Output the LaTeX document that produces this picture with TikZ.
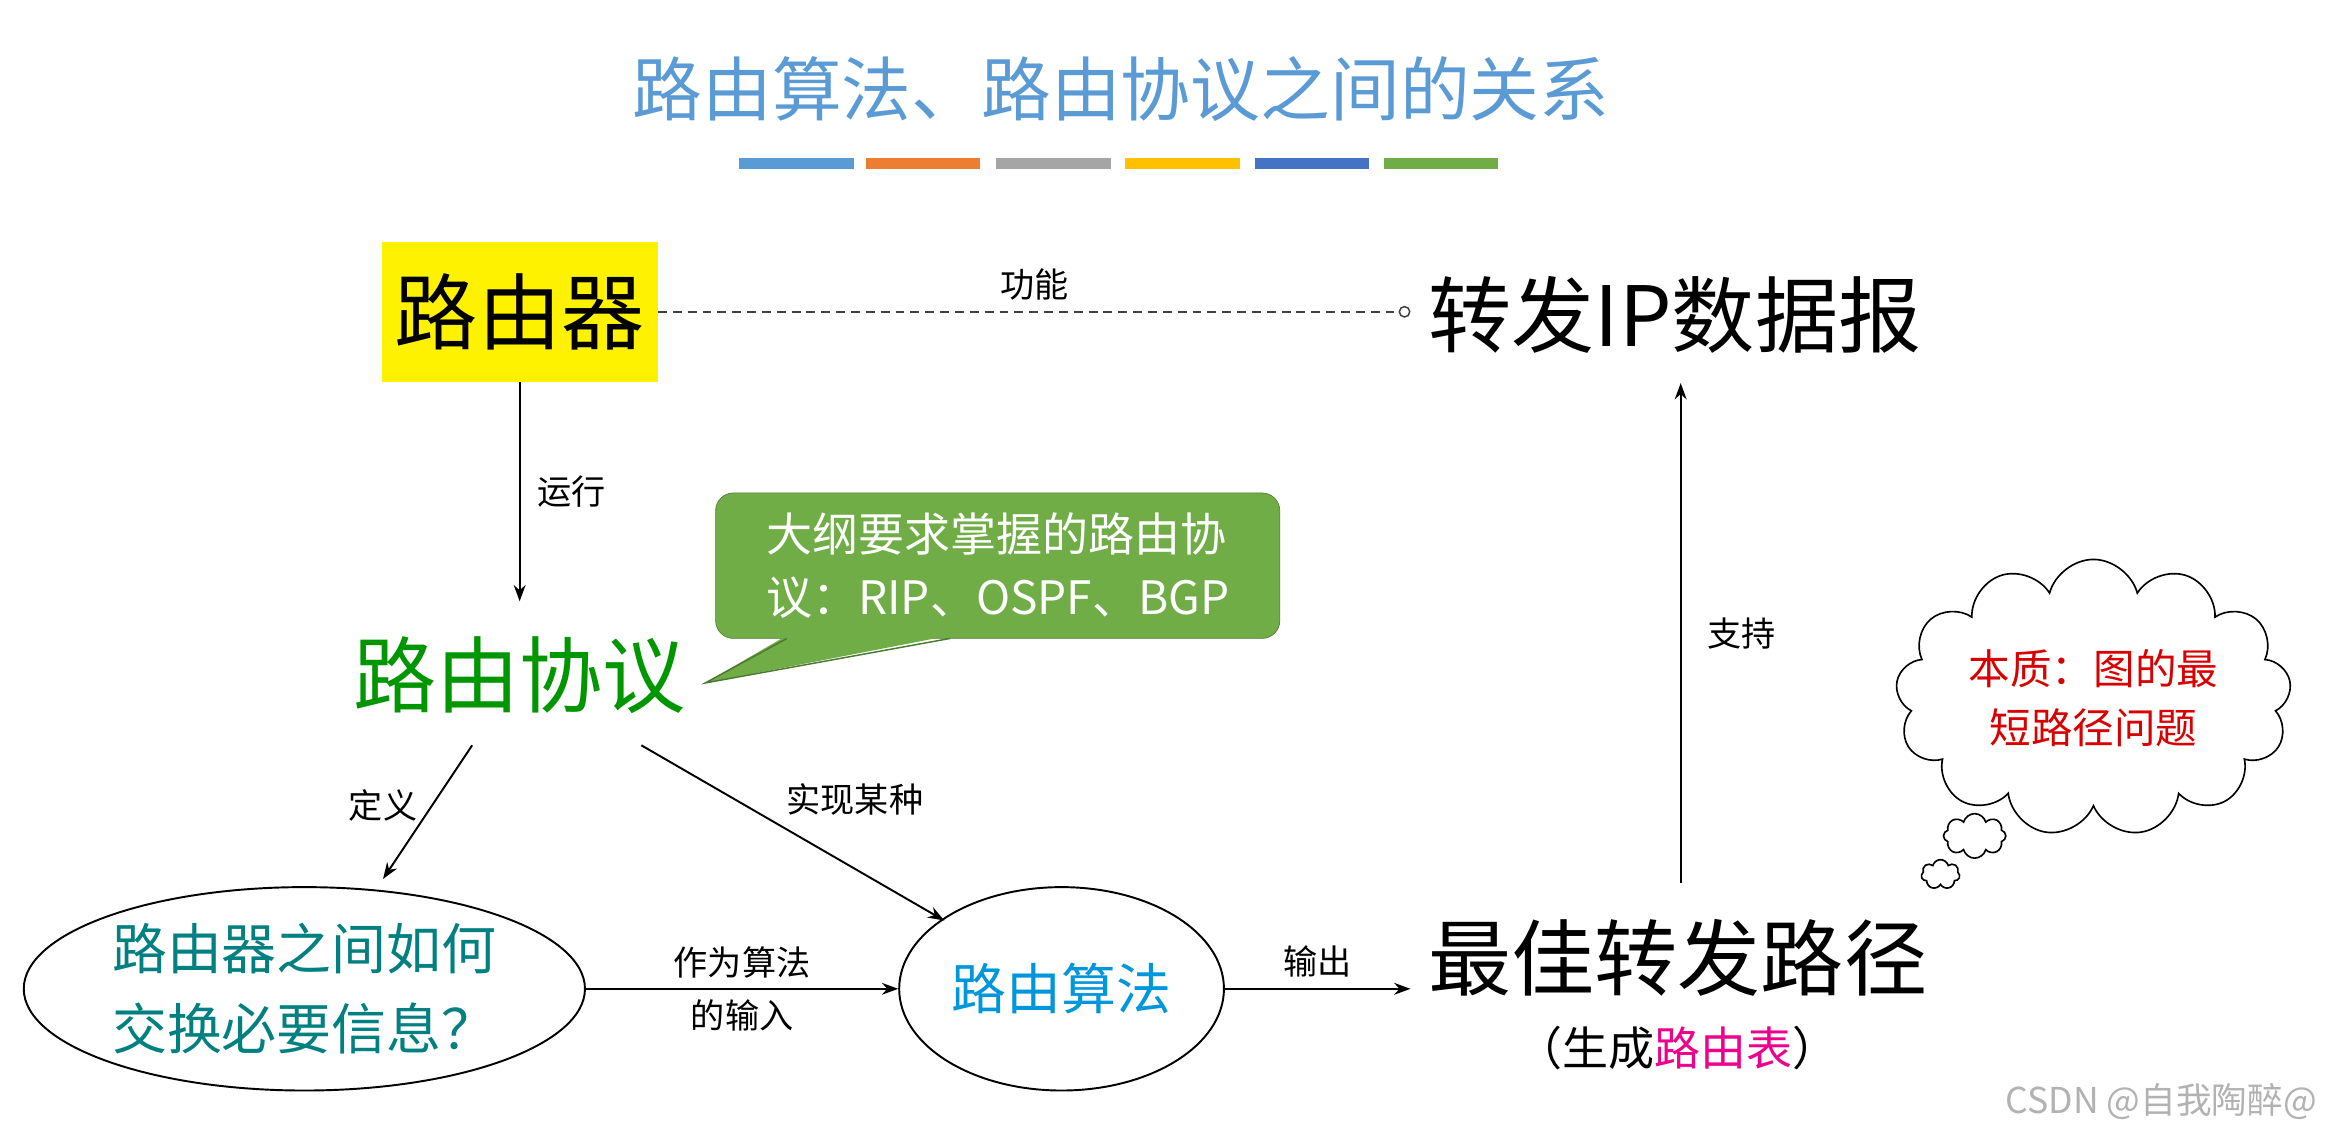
\documentclass[tikz,border=0pt]{standalone}
\usepackage{fontspec}
\setmainfont{Noto Sans CJK SC}
\usetikzlibrary{shapes.geometric,shapes.symbols,arrows.meta,shapes.callouts}
\definecolor{tblue}{RGB}{91,155,213}
\definecolor{torange}{RGB}{237,125,49}
\definecolor{tgray}{RGB}{165,165,165}
\definecolor{tgold}{RGB}{255,192,0}
\definecolor{tdblue}{RGB}{68,114,196}
\definecolor{tgreen}{RGB}{112,173,71}
\definecolor{pgreen}{RGB}{0,150,0}
\definecolor{teal2}{RGB}{0,128,128}
\definecolor{algo}{RGB}{0,150,220}
\tikzset{
 arr/.style={-{Stealth[length=11pt,width=8pt]},line width=1.3pt},
 lbl/.style={font=\fontsize{23}{28}\selectfont},
 big/.style={font=\fontsize{56}{60}\selectfont,inner sep=0pt},
 bar/.style={line width=7pt},
}
\begin{document}
\begin{tikzpicture}[x=1pt,y=-1pt]
\useasboundingbox (0,0) rectangle (1568,769);
\fill[white] (0,0) rectangle (1568,769);
\node[font=\fontsize{47}{50}\selectfont,text=tblue] (title) at (755,60) {路由算法、路由协议之间的关系};
\draw[bar,tblue] (498,110)--(575,110);
\draw[bar,torange] (583,110)--(660,110);
\draw[bar,tgray] (671,110)--(748,110);
\draw[bar,tgold] (758,110)--(835,110);
\draw[bar,tdblue] (845,110)--(922,110);
\draw[bar,tgreen] (932,110)--(1009,110);
\node[fill=yellow,minimum width=186pt,minimum height=94pt,big] (router) at (350,210) {路由器};
\node[big,anchor=west] (fwd) at (962,212) {转发IP数据报};
\coordinate (fwdin) at (950,210);
\draw[dash pattern=on 6pt off 4pt,gray!50!black,line width=1pt,-{Circle[open,length=8pt]}] (router.east) -- node[lbl,above=4pt,text=black]{功能} (fwdin);
\node[big,text=pgreen] (proto) at (350,455) {路由协议};
\draw[arr] (router.south) -- node[lbl,right=8pt]{运行} (350,405) coordinate (pin);
\node[draw=tgreen!70!black,fill=tgreen,rounded corners=12pt,minimum width=380pt,minimum height=98pt,align=left,text=white,font=\fontsize{31}{42}\selectfont] (call) at (672,381) {大纲要求掌握的路由协\\议：RIP、OSPF、BGP};
\fill[tgreen] (530,428) -- (475,460) -- (640,428) -- cycle;
\draw[tgreen!70!black,line width=1pt] (530,430) -- (475,460) -- (640,430);
\node[draw,line width=1.3pt,ellipse,minimum width=378pt,minimum height=137pt,align=center,text=teal2,font=\fontsize{37}{54}\selectfont] (ex) at (205,666) {路由器之间如何\\交换必要信息？};
\node[draw,line width=1.3pt,ellipse,minimum width=216pt,minimum height=137pt,text=algo,font=\fontsize{37}{40}\selectfont] (alg) at (715,666) {路由算法};
\draw[arr] (318,502) -- node[lbl,left=6pt,pos=0.45]{定义} (258,592);
\draw[arr] (432,502) -- node[lbl,above right=2pt,pos=0.45]{实现某种} (636,620);
\draw[arr] (ex.east) -- node[lbl,align=center]{作为算法\\[8pt]的输入} (alg.west);
\node[big] (best) at (1130,645) {最佳转发路径};
\node[font=\fontsize{31}{36}\selectfont] (gen) at (1130,706) {（生成\textcolor{magenta}{路由表}）};
\draw[arr] (alg.east) -- node[lbl,above=4pt]{输出} (950,666) coordinate (bin);
\draw[arr] (1132,595) coordinate (bs) -- node[lbl,right=14pt]{支持} (1132,258) coordinate (ft);
\node[cloud,draw,line width=1.1pt,cloud puffs=13,aspect=1.7,minimum width=250pt,minimum height=142pt,fill=white,align=center,text=red!85!black,font=\fontsize{28}{40}\selectfont] (cl) at (1410,470) {本质：图的最\\短路径问题};
\node[cloud,draw,line width=1.1pt,cloud puffs=8,minimum width=42pt,minimum height=30pt,fill=white] (b1) at (1330,563) {};
\node[cloud,draw,line width=1.1pt,cloud puffs=7,minimum width=26pt,minimum height=20pt,fill=white] (b2) at (1307,589) {};
\node[text=gray!60,font=\fontsize{24}{28}\selectfont,anchor=east] (wm) at (1564,742) {CSDN @自我陶醉@};
\end{tikzpicture}
\end{document}
